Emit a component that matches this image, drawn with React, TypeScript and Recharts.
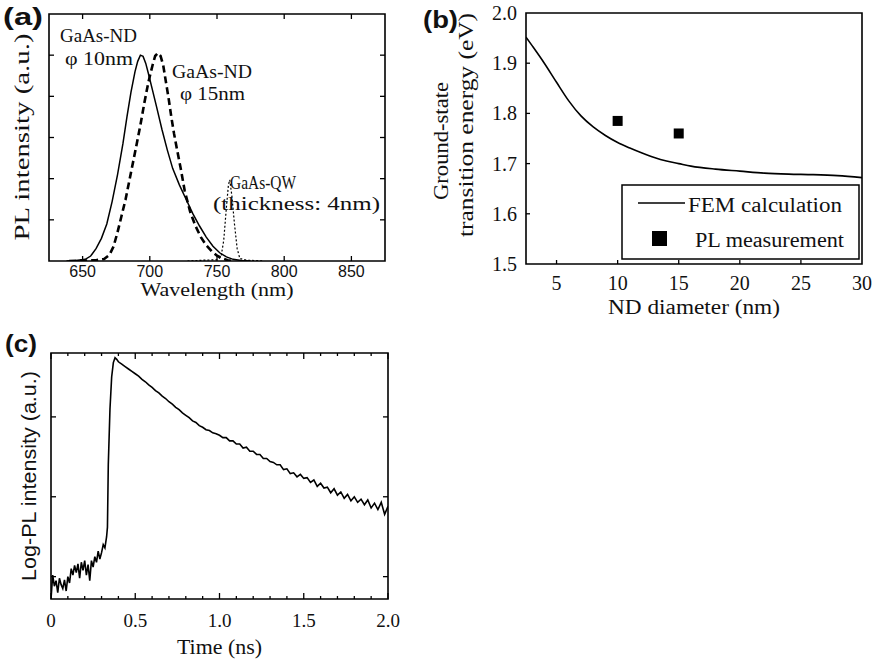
import React from 'react';
import { LineChart, Line, XAxis, YAxis, ReferenceArea, ComposedChart, Scatter, Legend } from 'recharts';

const SERIF = '"Liberation Serif", "Times New Roman", serif';
const SANS = '"Liberation Sans", Arial, sans-serif';

// ---------- Panel (a): PL spectra ----------
const nd10Wavelength = [638, 645, 652, 656, 660, 664, 668, 672, 676, 680, 683, 686, 689, 691, 693, 695, 697, 699, 702, 705, 709, 713, 717, 722, 727, 732, 737, 742, 747, 752, 757, 762, 768, 775];
const nd10Intensity = [0, 0.01, 0.04, 0.12, 0.3, 0.55, 0.9, 1.45, 2.1, 2.85, 3.5, 4.1, 4.6, 4.85, 5.0, 4.97, 4.8, 4.55, 4.15, 3.75, 3.2, 2.7, 2.25, 1.85, 1.5, 1.15, 0.85, 0.58, 0.36, 0.2, 0.1, 0.04, 0.01, 0];
const nd15Wavelength = [640, 660, 666, 670, 673, 676, 679, 682, 686, 690, 693, 696, 699, 702, 704, 706, 708, 710, 712, 714, 716, 718, 720, 723, 726, 730, 734, 738, 742, 746, 750, 754, 758, 762];
const nd15Intensity = [0, 0.02, 0.05, 0.15, 0.35, 0.7, 1.1, 1.5, 2.15, 2.8, 3.3, 3.85, 4.35, 4.75, 4.98, 5.05, 4.98, 4.75, 4.35, 3.95, 3.5, 3.1, 2.75, 2.25, 1.7, 1.2, 0.85, 0.58, 0.38, 0.24, 0.13, 0.06, 0.02, 0];
const qwWavelength = [728, 740, 750, 753, 755, 757, 758.5, 759.5, 761, 763, 765, 767, 772, 785];
const qwIntensity = [0, 0.02, 0.03, 0.1, 0.5, 1.3, 1.85, 1.97, 1.6, 0.9, 0.3, 0.06, 0.02, 0];
const aXTicks = [650, 700, 750, 800, 850];
const aYTicks = [1, 2, 3, 4, 5];

// ---------- Panel (b): transition energy ----------
const femDiameter = [2.5, 3, 4, 5, 6, 7, 8, 9, 10, 11, 12, 13, 14, 15, 16, 18, 20, 22, 24, 26, 28, 30];
const femEnergy = [1.952, 1.935, 1.9, 1.862, 1.825, 1.795, 1.773, 1.756, 1.742, 1.731, 1.721, 1.712, 1.705, 1.7, 1.695, 1.689, 1.685, 1.681, 1.679, 1.678, 1.676, 1.672];
const plDiameter = [10, 15];
const plEnergy = [1.785, 1.76];
const bXTicks = [5, 10, 15, 20, 25, 30];
const bYTicks = [1.5, 1.6, 1.7, 1.8, 1.9, 2.0];

// ---------- Panel (c): time-resolved PL ----------
const timeNs = [0, 0.01, 0.02, 0.03, 0.04, 0.05, 0.06, 0.07, 0.08, 0.09, 0.1, 0.11, 0.12, 0.13, 0.14, 0.15, 0.16, 0.17, 0.18, 0.19, 0.2, 0.21, 0.22, 0.23, 0.24, 0.25, 0.26, 0.27, 0.28, 0.29, 0.3, 0.31, 0.32, 0.33, 0.335, 0.34, 0.35, 0.36, 0.37, 0.38, 0.39, 0.4,
  0.42, 0.44, 0.46, 0.48, 0.5, 0.52, 0.54, 0.56, 0.58, 0.6, 0.62, 0.64, 0.66, 0.68, 0.7, 0.72, 0.74, 0.76, 0.78, 0.8, 0.82, 0.84, 0.86, 0.88, 0.9, 0.92, 0.94, 0.96, 0.98, 1.0,
  1.02, 1.04, 1.06, 1.08, 1.1, 1.12, 1.14, 1.16, 1.18, 1.2, 1.22, 1.24, 1.26, 1.28, 1.3, 1.32, 1.34, 1.36, 1.38, 1.4, 1.42, 1.44, 1.46, 1.48, 1.5,
  1.52, 1.54, 1.56, 1.58, 1.6, 1.62, 1.64, 1.66, 1.68, 1.7, 1.72, 1.74, 1.76, 1.78, 1.8, 1.82, 1.84, 1.86, 1.88, 1.9, 1.92, 1.94, 1.96, 1.98, 2.0];
const logPL = [-0.28, 0.02, -0.12, -0.05, -0.2, -0.02, -0.1, -0.15, -0.04, -0.18, 0.0, -0.08, 0.1, 0.02, 0.14, 0.05, 0.16, -0.02, 0.18, 0.08, 0.2, 0.02, 0.15, -0.05, 0.2, 0.12, 0.25, 0.18, 0.32, 0.22, 0.3, 0.4, 0.36, 0.5, 0.62, 1.4, 2.1, 2.5, 2.68, 2.74, 2.72, 2.69,
  2.66, 2.63, 2.6, 2.57, 2.54, 2.51, 2.47, 2.44, 2.4, 2.37, 2.33, 2.3, 2.26, 2.23, 2.19, 2.16, 2.12, 2.09, 2.05, 2.02, 1.99, 1.95, 1.93, 1.89, 1.87, 1.84, 1.83, 1.8, 1.79, 1.77,
  1.74, 1.74, 1.7, 1.7, 1.66, 1.66, 1.61, 1.62, 1.57, 1.57, 1.53, 1.53, 1.48, 1.48, 1.44, 1.43, 1.4, 1.4, 1.34, 1.35, 1.29, 1.3, 1.25, 1.28, 1.23,
  1.24, 1.18, 1.21, 1.13, 1.17, 1.11, 1.12, 1.05, 1.1, 1.02, 1.06, 0.98, 1.03, 0.95, 1.0, 0.93, 0.97, 0.9, 0.96, 0.86, 0.92, 0.84, 0.93, 0.78, 0.88];
const cXTicks = [0, 0.1, 0.2, 0.3, 0.4, 0.5, 0.6, 0.7, 0.8, 0.9, 1.0, 1.1, 1.2, 1.3, 1.4, 1.5, 1.6, 1.7, 1.8, 1.9, 2.0];
const cXLabels = ['0', '', '', '', '', '0.5', '', '', '', '', '1.0', '', '', '', '', '1.5', '', '', '', '', '2.0'];
const cYTicks = [0, 1, 2];

const pairs = (xs: number[], ys: number[], kx: string, ky: string) => xs.map((x, i) => ({ [kx]: x, [ky]: ys[i] }));

const nd10Data = pairs(nd10Wavelength, nd10Intensity, 'w', 'i');
const nd15Data = pairs(nd15Wavelength, nd15Intensity, 'w', 'i');
const qwData = pairs(qwWavelength, qwIntensity, 'w', 'i');
const femData = pairs(femDiameter, femEnergy, 'd', 'e');
const plData = pairs(plDiameter, plEnergy, 'd', 'e');
const trData = pairs(timeNs, logPL, 't', 'v');

type XT = { plotH: number; len: (v: number, i: number) => number; mirror: boolean; label: (v: number, i: number) => string; font: string; size: number; dy: number };
const makeXTick = (o: XT) => (p: any) => {
  const { x, y, payload, index } = p;
  const v = payload.value;
  const L = o.len(v, index);
  const lab = o.label(v, index);
  return (
    <g>
      {L > 0 && <line x1={x} x2={x} y1={y} y2={y - L} stroke="#000" strokeWidth={1.3} />}
      {L > 0 && o.mirror && <line x1={x} x2={x} y1={y - o.plotH} y2={y - o.plotH + L} stroke="#000" strokeWidth={1.3} />}
      {lab !== '' && (
        <text x={x} y={y + o.dy} textAnchor="middle" style={{ fontFamily: o.font, fontSize: o.size }} fill="#111">{lab}</text>
      )}
    </g>
  );
};

type YT = { plotW: number; len: (v: number) => number; mirror: boolean; label: (v: number) => string; font: string; size: number; dx: number };
const makeYTick = (o: YT) => (p: any) => {
  const { x, y, payload } = p;
  const v = payload.value;
  const L = o.len(v);
  const lab = o.label(v);
  return (
    <g>
      {L > 0 && <line x1={x} x2={x + L} y1={y} y2={y} stroke="#000" strokeWidth={1.3} />}
      {L > 0 && o.mirror && <line x1={x + o.plotW} x2={x + o.plotW - L} y1={y} y2={y} stroke="#000" strokeWidth={1.3} />}
      {lab !== '' && (
        <text x={x - o.dx} y={y + o.size * 0.35} textAnchor="end" style={{ fontFamily: o.font, fontSize: o.size }} fill="#111">{lab}</text>
      )}
    </g>
  );
};

function PanelA() {
  return (
    <LineChart width={400} height={320} margin={{ top: 14, left: 48, right: 15, bottom: 58 }}>
      <XAxis type="number" dataKey="w" domain={[625, 875]} ticks={aXTicks} interval={0} height={1} axisLine={false} tickLine={false} tickSize={0} tickMargin={0} allowDataOverflow
        tick={makeXTick({ plotH: 247, len: () => 5, mirror: true, label: (v) => String(v), font: SANS, size: 16, dy: 16 })} />
      <YAxis type="number" domain={[0, 6]} ticks={aYTicks} interval={0} width={1} axisLine={false} tickLine={false} tickSize={0} tickMargin={0} allowDataOverflow
        tick={makeYTick({ plotW: 336, len: () => 5, mirror: true, label: () => '', font: SERIF, size: 16, dx: 6 })} />
      <ReferenceArea x1={625} x2={875} y1={0} y2={6} fill="none" fillOpacity={0} stroke="#000" strokeWidth={1.6} ifOverflow="visible" />
      <Line data={nd10Data} dataKey="i" type="linear" stroke="#000" strokeWidth={1.5} dot={false} activeDot={false} isAnimationActive={false} />
      <Line data={nd15Data} dataKey="i" type="linear" stroke="#000" strokeWidth={2.6} strokeDasharray="7 4" dot={false} activeDot={false} isAnimationActive={false} />
      <Line data={qwData} dataKey="i" type="linear" stroke="#000" strokeWidth={1.2} strokeDasharray="2 2" dot={false} activeDot={false} isAnimationActive={false} />
    </LineChart>
  );
}

const SquareDot = (p: any) => <rect x={p.cx - 5} y={p.cy - 5} width={10} height={10} fill="#000" />;

const BLegend = () => (
  <svg width={239} height={76} style={{ display: 'block' }}>
    <rect x={1} y={1} width={237} height={74} fill="#fff" stroke="#000" strokeWidth={1.5} />
    <line x1={17} x2={64} y1={19} y2={19} stroke="#000" strokeWidth={1.5} />
    <text x={67} y={28} style={{ fontFamily: SERIF, fontSize: 20 }} textLength={154} lengthAdjust="spacingAndGlyphs" fill="#111">FEM calculation</text>
    <rect x={31} y={47} width={15} height={15} fill="#000" />
    <text x={74} y={63} style={{ fontFamily: SERIF, fontSize: 20 }} textLength={149} lengthAdjust="spacingAndGlyphs" fill="#111">PL measurement</text>
  </svg>
);

function PanelB() {
  return (
    <ComposedChart width={458} height={330} margin={{ top: 13, left: 105, right: 16, bottom: 65 }}>
      <XAxis type="number" dataKey="d" domain={[2.5, 30]} ticks={bXTicks} interval={0} height={1} axisLine={false} tickLine={false} tickSize={0} tickMargin={0} allowDataOverflow
        tick={makeXTick({ plotH: 251, len: (v) => (v < 30 ? 4 : 0), mirror: false, label: (v) => String(v), font: SERIF, size: 20, dy: 26 })} />
      <YAxis type="number" domain={[1.5, 2.0]} ticks={bYTicks} interval={0} width={1} axisLine={false} tickLine={false} tickSize={0} tickMargin={0} allowDataOverflow
        tick={makeYTick({ plotW: 336, len: (v) => (v > 1.55 && v < 1.95 ? 4 : 0), mirror: false, label: (v) => v.toFixed(1), font: SERIF, size: 20, dx: 9 })} />
      <ReferenceArea x1={2.5} x2={30} y1={1.5} y2={2.0} fill="none" fillOpacity={0} stroke="#000" strokeWidth={1.6} ifOverflow="visible" />
      <Line data={femData} dataKey="e" type="monotone" stroke="#000" strokeWidth={1.6} dot={false} activeDot={false} isAnimationActive={false} />
      <Scatter data={plData} dataKey="e" shape={SquareDot} isAnimationActive={false} />
      <Legend content={BLegend} layout="horizontal" align="center" verticalAlign="middle" wrapperStyle={{ left: 201, top: 184, width: 239, height: 76 }} />
    </ComposedChart>
  );
}

function PanelC() {
  return (
    <LineChart width={420} height={343} margin={{ top: 33, left: 50, right: 32, bottom: 63 }}>
      <XAxis type="number" dataKey="t" domain={[0, 2]} ticks={cXTicks} interval={0} height={1} axisLine={false} tickLine={false} tickSize={0} tickMargin={0} allowDataOverflow
        tick={makeXTick({ plotH: 246, len: (v, i) => (i % 5 === 0 ? 6 : 3), mirror: true, label: (v, i) => cXLabels[i] ?? '', font: SERIF, size: 19, dy: 28 })} />
      <YAxis type="number" domain={[-0.28, 2.8]} ticks={cYTicks} interval={0} width={1} axisLine={false} tickLine={false} tickSize={0} tickMargin={0} allowDataOverflow
        tick={makeYTick({ plotW: 337, len: () => 5, mirror: true, label: () => '', font: SERIF, size: 16, dx: 6 })} />
      <ReferenceArea x1={0} x2={2} y1={-0.28} y2={2.8} fill="none" fillOpacity={0} stroke="#000" strokeWidth={1.6} ifOverflow="visible" />
      <Line data={trData} dataKey="v" type="linear" stroke="#000" strokeWidth={1.6} dot={false} activeDot={false} isAnimationActive={false} />
    </LineChart>
  );
}

const T = (props: any) => <text fill="#111" lengthAdjust="spacingAndGlyphs" {...props} />;

export default function App() {
  return (
    <div style={{ position: 'absolute', left: 0, top: 0, width: 878, height: 663, background: '#fff', overflow: 'hidden' }}>
      <div style={{ position: 'absolute', left: 0, top: 0 }}><PanelA /></div>
      <div style={{ position: 'absolute', left: 420, top: 0 }}><PanelB /></div>
      <div style={{ position: 'absolute', left: 0, top: 320 }}><PanelC /></div>
      <svg width={878} height={663} style={{ position: 'absolute', left: 0, top: 0, pointerEvents: 'none' }}>
        {/* panel letters */}
        <T x={3} y={25} fontFamily={SANS} fontWeight="bold" fontSize={23} textLength={40}>(a)</T>
        <T x={423} y={28} fontFamily={SANS} fontWeight="bold" fontSize={23} textLength={35}>(b)</T>
        <T x={5} y={352} fontFamily={SANS} fontWeight="bold" fontSize={23} textLength={32}>(c)</T>
        {/* panel (a) */}
        <T x={217} y={296} textAnchor="middle" fontFamily={SERIF} fontSize={19} textLength={153}>Wavelength (nm)</T>
        <T transform="translate(28.5,137) rotate(-90)" x={0} y={0} textAnchor="middle" fontFamily={SERIF} fontSize={21} textLength={207}>PL intensity (a.u.)</T>
        <T x={60} y={42} fontFamily={SERIF} fontSize={19} textLength={77}>GaAs-ND</T>
        <T x={65} y={65} fontFamily={SERIF} fontSize={19} textLength={68}>φ 10nm</T>
        <T x={172} y={78} fontFamily={SERIF} fontSize={19} textLength={80}>GaAs-ND</T>
        <T x={180} y={100} fontFamily={SERIF} fontSize={19} textLength={65}>φ 15nm</T>
        <T x={230} y={189} fontFamily={SERIF} fontSize={18} textLength={66}>GaAs-QW</T>
        <T x={213} y={210} fontFamily={SERIF} fontSize={19} textLength={167}>(thickness: 4nm)</T>
        {/* panel (b) */}
        <T transform="translate(448,141) rotate(-90)" x={0} y={0} textAnchor="middle" fontFamily={SERIF} fontSize={20} textLength={118}>Ground-state</T>
        <T transform="translate(473,125) rotate(-90)" x={0} y={0} textAnchor="middle" fontFamily={SERIF} fontSize={20} textLength={224}>transition energy (eV)</T>
        <T x={694} y={314} textAnchor="middle" fontFamily={SERIF} fontSize={20} textLength={172}>ND diameter (nm)</T>
        {/* panel (c) */}
        <T x={219.5} y={654} textAnchor="middle" fontFamily={SERIF} fontSize={20} textLength={85}>Time (ns)</T>
        <T transform="translate(36,476) rotate(-90)" x={0} y={0} textAnchor="middle" fontFamily={SANS} fontSize={20} textLength={210}>Log-PL intensity (a.u.)</T>
      </svg>
    </div>
  );
}
